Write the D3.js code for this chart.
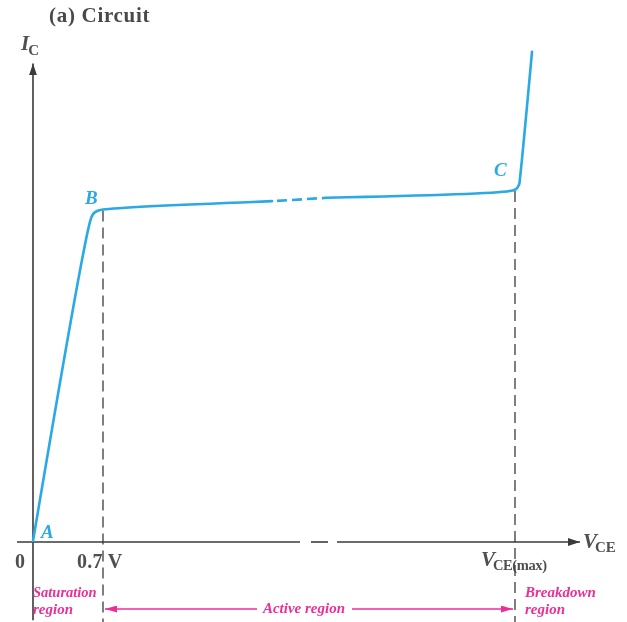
<!DOCTYPE html>
<html>
<head>
<meta charset="utf-8">
<script src="https://cdn.jsdelivr.net/npm/d3@7"></script>
<style>
  html, body { margin: 0; padding: 0; background: #fff; }
  svg { display: block; }
  text { font-family: "Liberation Serif", "DejaVu Serif", serif; }
</style>
</head>
<body>
<svg id="chart" width="627" height="622"></svg>
<script>
// Collector-current characteristic of a BJT (I_C vs V_CE), arbitrary units.
// Saturation rise A -> B
const saturationV = [0, 0.57, 0.60, 0.64, 0.70];
const saturationI = [0, 6.65, 6.81, 6.875, 6.906];
// Active region B -> C (middle part is drawn dashed)
const activeV = [0.70, 2.39, 2.94, 4.77];
const activeI = [6.906, 7.08, 7.15, 7.29];
// Breakdown C -> top
const breakdownV = [4.77, 4.83, 4.86, 4.87, 4.99];
const breakdownI = [7.29, 7.33, 7.42, 7.56, 10.19];

// Points named on the curve
const pointNames = ["A", "B", "C"];
const pointV = [0, 0.70, 4.82];
const pointI = [0, 6.906, 7.31];

// Axis markings
const tickV = [0, 0.7, 4.82];
const tickLabels = ["0", "0.7 V", "V_CE(max)"];
const regionNames = ["Saturation region", "Active region", "Breakdown region"];

const svg = d3.select("#chart");
const x = d3.scaleLinear().domain([0, 5.45]).range([33, 578]);
const y = d3.scaleLinear().domain([0, 10]).range([541, 61]);

const blue = "#2aa9e4";
const pink = "#ec2f97";
const axisCol = "#3a3a3a";
const textCol = "#505050";

const defs = svg.append("defs");
defs.append("filter").attr("id", "soft")
  .append("feGaussianBlur").attr("stdDeviation", 0.45);
function marker(id, color, w, h) {
  defs.append("marker").attr("id", id)
    .attr("viewBox", `0 0 ${w} ${h}`).attr("refX", w).attr("refY", h / 2)
    .attr("markerWidth", w).attr("markerHeight", h)
    .attr("markerUnits", "userSpaceOnUse").attr("orient", "auto-start-reverse")
    .append("path").attr("d", `M0,0L${w},${h / 2}L0,${h}Z`).attr("fill", color);
}
marker("axisArrow", axisCol, 12, 8);
marker("pinkArrow", pink, 12, 7);

const g = svg.append("g").attr("filter", "url(#soft)");

// Title
g.append("text").attr("x", 49).attr("y", 22).attr("font-size", 21)
  .attr("font-weight", "bold").attr("letter-spacing", 0.7)
  .attr("fill", "#4a4a4a").text("(a) Circuit");

// Y axis
g.append("line").attr("x1", x(0)).attr("x2", x(0))
  .attr("y1", y(-1.65)).attr("y2", y(9.95))
  .attr("stroke", axisCol).attr("stroke-width", 1.6)
  .attr("marker-end", "url(#axisArrow)");
const yl = g.append("text").attr("x", 21).attr("y", 50).attr("fill", textCol);
yl.append("tspan").attr("font-style", "italic").attr("font-weight", "bold")
  .attr("font-size", 21).text("I");
yl.append("tspan").attr("font-size", 15).attr("font-weight", "bold")
  .attr("dy", 5).attr("dx", -1).text("C");

// X axis with a break in the middle
const xSegments = [[-0.16, 2.67], [2.78, 2.95], [3.04, 5.47]];
xSegments.forEach((s, i) => {
  const ln = g.append("line").attr("x1", x(s[0])).attr("x2", x(s[1]))
    .attr("y1", y(0) + 1).attr("y2", y(0) + 1)
    .attr("stroke", axisCol).attr("stroke-width", 1.6);
  if (i === xSegments.length - 1) ln.attr("marker-end", "url(#axisArrow)");
});
const xl = g.append("text").attr("x", 583).attr("y", 548).attr("fill", textCol);
xl.append("tspan").attr("font-style", "italic").attr("font-weight", "bold")
  .attr("font-size", 21).text("V");
xl.append("tspan").attr("font-size", 15).attr("font-weight", "bold")
  .attr("dy", 4).attr("dx", -2).text("CE");

// Tick labels
g.append("text").attr("x", 15).attr("y", 568).attr("font-size", 20)
  .attr("font-weight", "bold").attr("fill", textCol).text(tickLabels[0]);
g.append("text").attr("x", x(tickV[1]) - 26).attr("y", 568).attr("font-size", 20)
  .attr("font-weight", "bold").attr("letter-spacing", 0.3)
  .attr("fill", textCol).text(tickLabels[1]);
const vmax = g.append("text").attr("x", x(tickV[2]) - 34).attr("y", 566)
  .attr("fill", textCol).attr("font-weight", "bold");
vmax.append("tspan").attr("font-style", "italic").attr("font-size", 21).text("V");
vmax.append("tspan").attr("font-size", 14.5).attr("dy", 4).attr("dx", -2)
  .attr("letter-spacing", -0.4).text(tickLabels[2].split("_")[1]);

// Vertical dashed guides at 0.7 V and V_CE(max)
[[tickV[1], pointI[1]], [tickV[2], pointI[2]]].forEach(([v, i]) => {
  g.append("line").attr("x1", x(v)).attr("x2", x(v))
    .attr("y1", y(i) + 1).attr("y2", 622)
    .attr("stroke", axisCol).attr("stroke-width", 1.3)
    .attr("stroke-dasharray", "11,6");
});

// Characteristic curve
const line = d3.line().x((d) => x(d[0])).y((d) => y(d[1])).curve(d3.curveCatmullRom.alpha(0.5));
const zip = (a, b) => a.map((v, i) => [v, b[i]]);
const curveStyle = (p) => p.attr("fill", "none").attr("stroke", blue)
  .attr("stroke-width", 2.6).attr("stroke-linecap", "round");

const satPts = zip(saturationV, saturationI);
const actPts = zip(activeV, activeI);
const brkPts = zip(breakdownV, breakdownI);

curveStyle(g.append("path").attr("d", line(satPts.concat([actPts[1]]))));
curveStyle(g.append("path").attr("d", line([actPts[1], actPts[2]])))
  .attr("stroke-dasharray", "10,5").attr("stroke-dashoffset", 10).attr("stroke-linecap", "butt");
curveStyle(g.append("path").attr("d", line([actPts[2]].concat(brkPts))));

// Point letters
const letterPos = [[8, -3], [-18, -6], [-21, -14]];
pointNames.forEach((n, i) => {
  g.append("text").attr("x", x(pointV[i]) + letterPos[i][0])
    .attr("y", y(pointI[i]) + letterPos[i][1])
    .attr("font-size", 19).attr("font-style", "italic").attr("font-weight", "bold")
    .attr("fill", blue).text(n);
});

// Region labels
const pinkText = (tx, ty, s, anchor) => g.append("text").attr("x", tx).attr("y", ty)
  .attr("font-size", 15).attr("font-style", "italic").attr("font-weight", "bold")
  .attr("fill", pink).attr("text-anchor", anchor || "start").text(s);
const sat = regionNames[0].split(" ");
pinkText(33, 597, sat[0]).attr("font-size", 14.5);
pinkText(33, 614, sat[1]);
const brk = regionNames[2].split(" ");
pinkText(525, 597, brk[0]);
pinkText(525, 614, brk[1]);
pinkText(304, 613, regionNames[1], "middle");

// Active-region span arrows
const arrowY = 609;
g.append("line").attr("x1", 257).attr("x2", x(tickV[1]) + 2)
  .attr("y1", arrowY).attr("y2", arrowY).attr("stroke", pink).attr("stroke-width", 1.6)
  .attr("marker-end", "url(#pinkArrow)");
g.append("line").attr("x1", 352).attr("x2", x(tickV[2]) - 2)
  .attr("y1", arrowY).attr("y2", arrowY).attr("stroke", pink).attr("stroke-width", 1.6)
  .attr("marker-end", "url(#pinkArrow)");
</script>
</body>
</html>
